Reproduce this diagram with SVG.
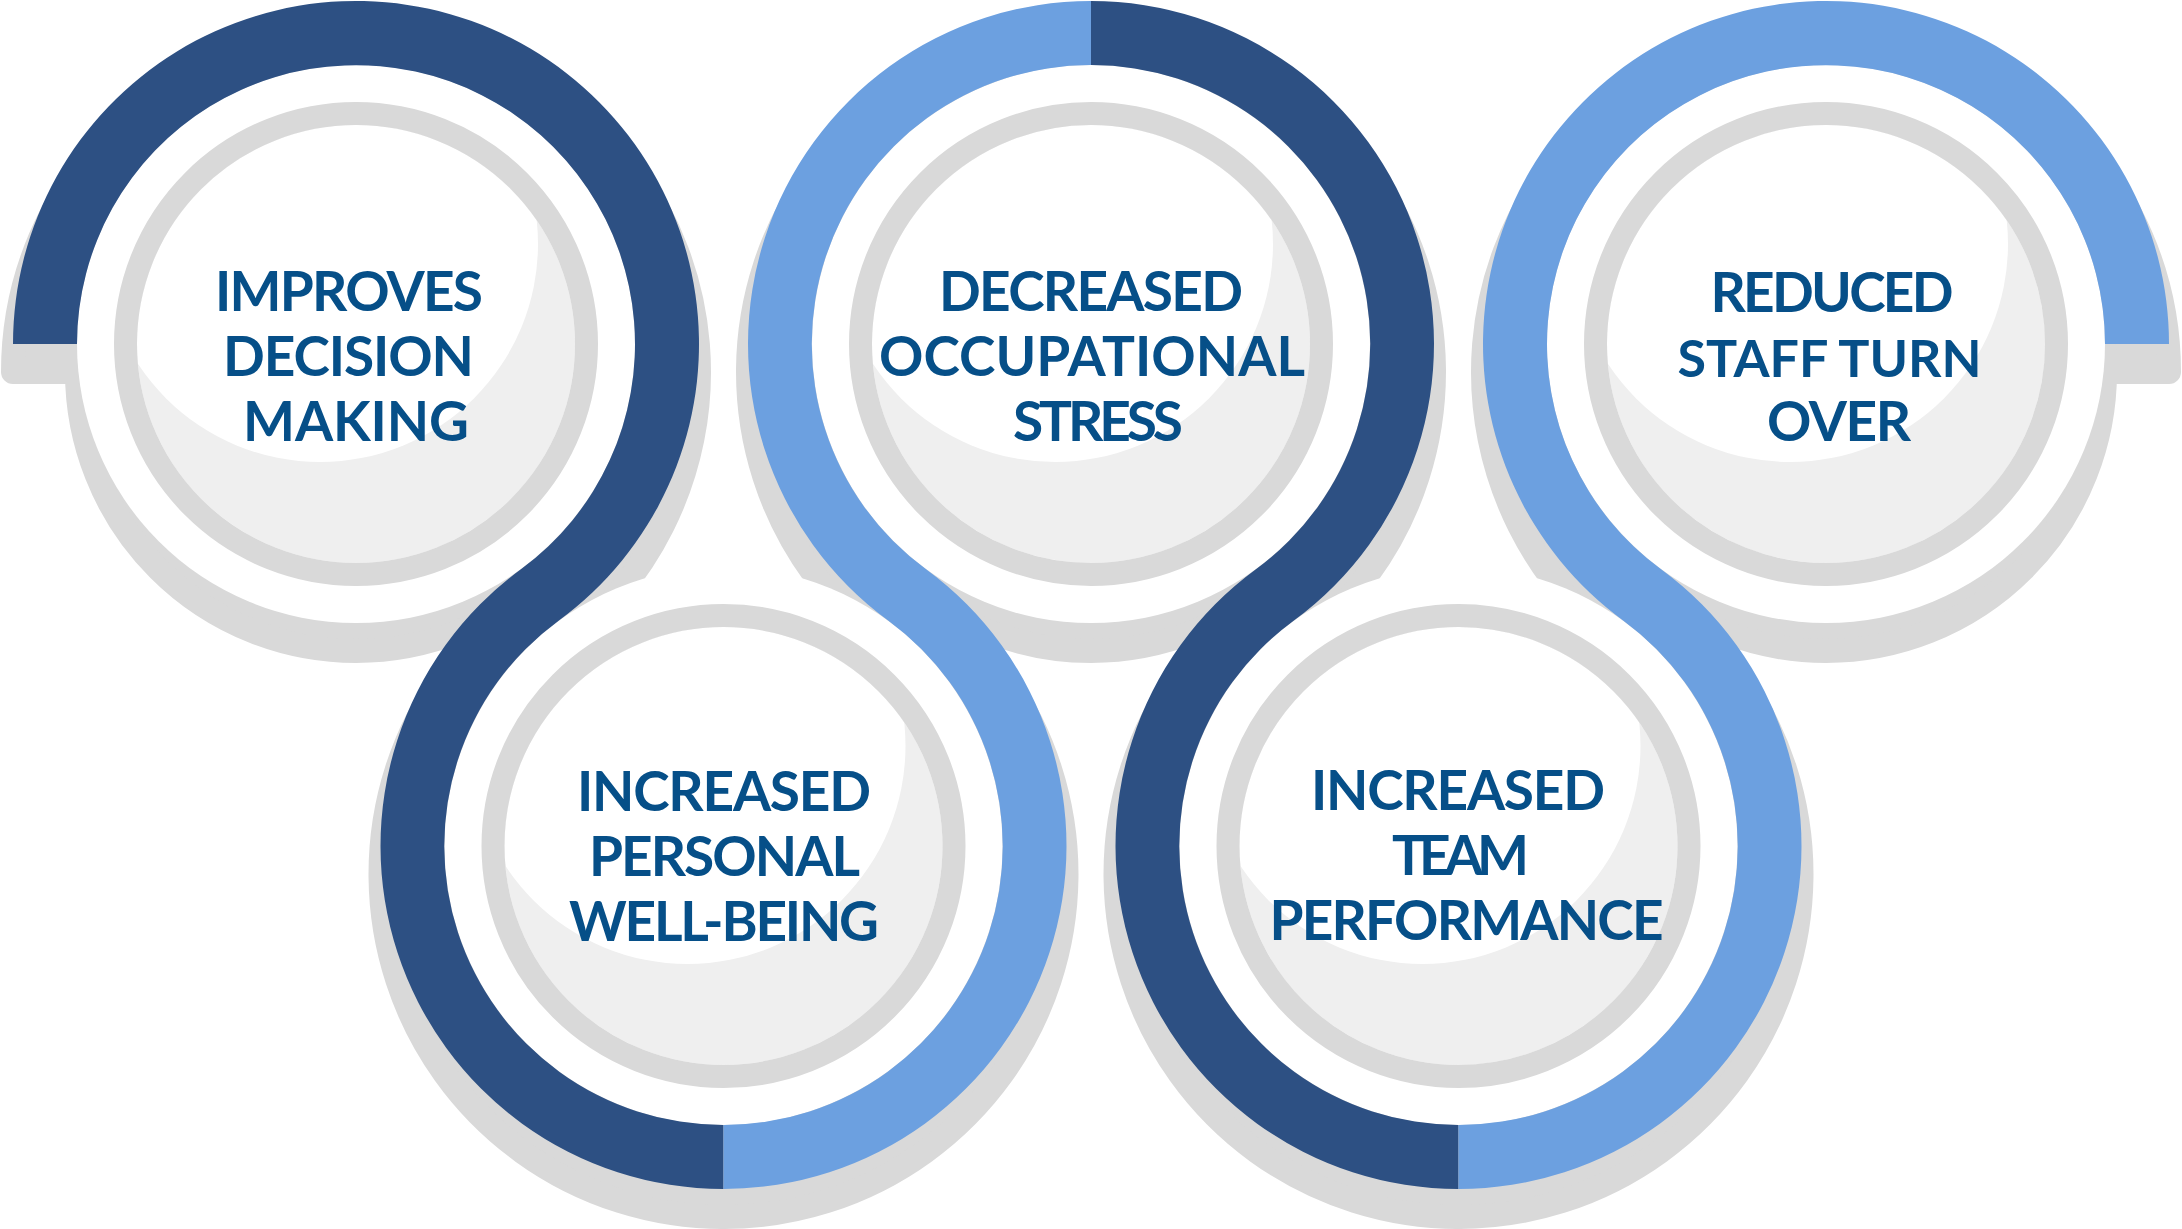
<svg xmlns="http://www.w3.org/2000/svg" xmlns:xlink="http://www.w3.org/1999/xlink" width="2182" height="1229" viewBox="0 0 2182 1229">
<style>
.sh{fill:#d9d9d9;stroke:#d9d9d9;stroke-width:24;stroke-linejoin:round}
.disc{fill:#ffffff}
.ring{fill:none;stroke:#d9d9d9;stroke-width:23}
.inner{fill:#efefef}
.hl{fill:#ffffff}
.dark{fill:#2d5083}
.light{fill:#6ca0e0}
.t{font-family:Lato,"Noto Sans","Liberation Sans",sans-serif;font-weight:700;font-size:55px;fill:#064f88;text-anchor:middle}
.tn{font-size:52px}
</style>
<defs>
<path id="b1" d="M13 344 A343 343 0 1 1 558.61 620.76 A279 279 0 0 0 723.5 1125 L723.5 1189 A343 343 0 0 1 520.89 569.24 A279 279 0 1 0 77 344 Z"/>
<path id="b2" d="M723.5 1189 A343 343 0 0 0 926.11 569.24 A279 279 0 0 1 1091 65 L1091 1 A343 343 0 0 0 888.39 620.76 A279 279 0 0 1 723.5 1125 Z"/>
<path id="b3" d="M1091 1 A343 343 0 0 1 1293.61 620.76 A279 279 0 0 0 1458.5 1125 L1458.5 1189 A343 343 0 0 1 1255.89 569.24 A279 279 0 0 0 1091 65 Z"/>
<path id="b4" d="M1458.5 1189 A343 343 0 0 0 1661.11 569.24 A279 279 0 1 1 2105 344 L2169 344 A343 343 0 1 0 1623.39 620.76 A279 279 0 0 1 1458.5 1125 Z"/>
<clipPath id="clipInner"><circle cx="0" cy="0" r="219"/></clipPath>
</defs>

<g id="shadow" transform="translate(0,28)">
<circle class="sh" cx="356" cy="344" r="279"/>
<circle class="sh" cx="723.5" cy="846" r="279"/>
<circle class="sh" cx="1091" cy="344" r="279"/>
<circle class="sh" cx="1458.5" cy="846" r="279"/>
<circle class="sh" cx="1826" cy="344" r="279"/>
<use xlink:href="#b1" class="sh"/>
<use xlink:href="#b2" class="sh"/>
<use xlink:href="#b3" class="sh"/>
<use xlink:href="#b4" class="sh"/>
</g>

<g id="node-1" transform="translate(356,344)">
<circle class="disc" r="279"/>
<circle class="inner" r="219"/>
<circle class="hl" cx="-36" cy="-100" r="218" clip-path="url(#clipInner)"/>
<circle class="ring" r="230.5"/>
</g>
<g id="node-2" transform="translate(723.5,846)">
<circle class="disc" r="279"/>
<circle class="inner" r="219"/>
<circle class="hl" cx="-36" cy="-100" r="218" clip-path="url(#clipInner)"/>
<circle class="ring" r="230.5"/>
</g>
<g id="node-3" transform="translate(1091,344)">
<circle class="disc" r="279"/>
<circle class="inner" r="219"/>
<circle class="hl" cx="-36" cy="-100" r="218" clip-path="url(#clipInner)"/>
<circle class="ring" r="230.5"/>
</g>
<g id="node-4" transform="translate(1458.5,846)">
<circle class="disc" r="279"/>
<circle class="inner" r="219"/>
<circle class="hl" cx="-36" cy="-100" r="218" clip-path="url(#clipInner)"/>
<circle class="ring" r="230.5"/>
</g>
<g id="node-5" transform="translate(1826,344)">
<circle class="disc" r="279"/>
<circle class="inner" r="219"/>
<circle class="hl" cx="-36" cy="-100" r="218" clip-path="url(#clipInner)"/>
<circle class="ring" r="230.5"/>
</g>

<g id="connectors">
<use xlink:href="#b1" class="dark"/>
<use xlink:href="#b2" class="light"/>
<use xlink:href="#b3" class="dark"/>
<use xlink:href="#b4" class="light"/>
</g>

<g id="labels">
<g id="label-1">
<text class="t" x="349" y="310.5" textLength="268" lengthAdjust="spacing">IMPROVES</text>
<text class="t" x="348.5" y="375.5" textLength="251" lengthAdjust="spacing">DECISION</text>
<text class="t" x="356" y="440.5" textLength="226" lengthAdjust="spacing">MAKING</text>
</g>
<g id="label-2">
<text class="t" x="724" y="810.5" textLength="294" lengthAdjust="spacing">INCREASED</text>
<text class="t" x="724.5" y="875.5" textLength="271" lengthAdjust="spacing">PERSONAL</text>
<text class="t" x="724" y="940.5" textLength="310" lengthAdjust="spacing">WELL-BEING</text>
</g>
<g id="label-3">
<text class="t" x="1091" y="310.5" textLength="304" lengthAdjust="spacing">DECREASED</text>
<text class="t" x="1092" y="376" textLength="426" lengthAdjust="spacing">OCCUPATIONAL</text>
<text class="t" x="1098" y="440.5" textLength="170" lengthAdjust="spacing">STRESS</text>
</g>
<g id="label-4">
<text class="t" x="1458" y="809.5" textLength="294" lengthAdjust="spacing">INCREASED</text>
<text class="t" x="1460.5" y="874.5" textLength="137" lengthAdjust="spacing">TEAM</text>
<text class="t" x="1466.5" y="939.5" textLength="394" lengthAdjust="spacing">PERFORMANCE</text>
</g>
<g id="label-5">
<text class="t" x="1832" y="311.5" textLength="243" lengthAdjust="spacing">REDUCED</text>
<text class="t tn" x="1829.5" y="377">STAFF TURN</text>
<text class="t" x="1839" y="441" textLength="144" lengthAdjust="spacing">OVER</text>
</g>
</g>
</svg>
